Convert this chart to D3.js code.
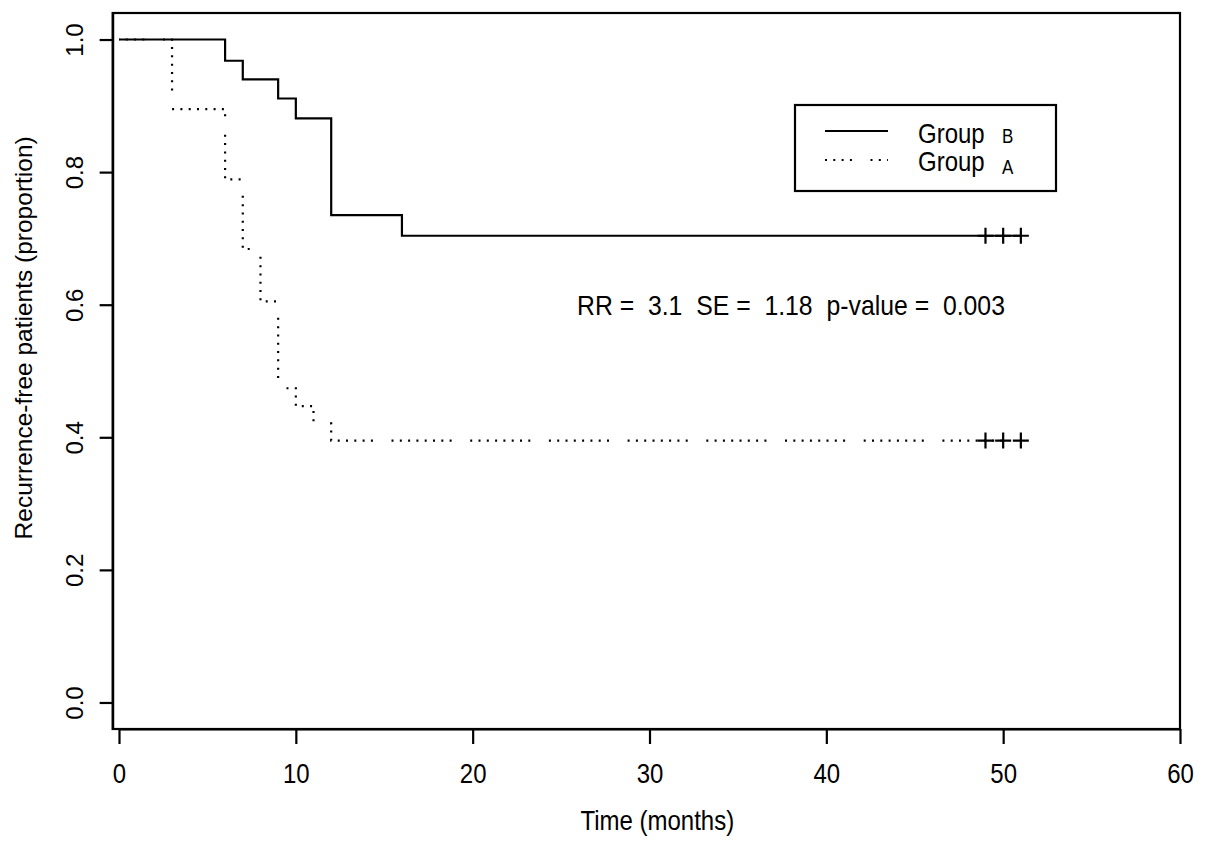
<!DOCTYPE html>
<html>
<head>
<meta charset="utf-8">
<script src="https://cdn.jsdelivr.net/npm/d3@7.9.0/dist/d3.min.js"></script>
<style>
  body { margin: 0; background: #fff; }
  text { font-family: "Liberation Sans", Arial, sans-serif; fill: #000; white-space: pre; }
</style>
</head>
<body>
<svg id="chart" width="1205" height="848"></svg>
<script>
// Kaplan-Meier step data
const timesB = [0, 6, 7, 9, 10, 12, 16];
const survB = [1, 0.968, 0.940, 0.911, 0.881, 0.735, 0.704];
const timesA = [0, 3, 6, 7, 8, 9, 10, 11, 12];
const survA = [1, 0.895, 0.789, 0.684, 0.605, 0.474, 0.447, 0.421, 0.395];
const lastTime = 51;
const censorB = [49, 50, 51];
const censorA = [49, 50, 51];

const xTicks = [0, 10, 20, 30, 40, 50, 60];
const yTicks = [0, 0.2, 0.4, 0.6, 0.8, 1.0];
const legendGroups = ["B", "A"];
const statText = "RR =  3.1  SE =  1.18  p-value =  0.003";

const SY = 1.15; // glyphs in the picture are a bit taller than wide
const FS = 24;

const svg = d3.select('#chart');
const x = d3.scaleLinear().domain([0, 60]).range([119, 1180]);
const y = d3.scaleLinear().domain([-0.04, 1.04]).range([729, 13]);

// dotted pattern: groups of 8 dots then a longer gap
const dotPattern = d3.range(7).map(() => '2,6.3').join(',') + ',2,18.6';

function htext(px, py, str, size, anchor) {
    return svg.append('text')
        .attr('transform', `translate(${px},${py}) scale(1,${SY})`)
        .attr('font-size', size)
        .attr('text-anchor', anchor)
        .text(str);
}

// axes
const xAxis = svg.append('g')
    .attr('transform', `translate(0,${y(-0.04)})`)
    .call(d3.axisBottom(x).tickValues(xTicks).tickSize(15).tickSizeOuter(0).tickFormat(d3.format('d')));
const yAxis = svg.append('g')
    .attr('transform', `translate(${x(-0.36)},0)`)
    .call(d3.axisLeft(y).tickValues(yTicks).tickSize(13).tickSizeOuter(0).tickFormat(d3.format('.1f')));
[xAxis, yAxis].forEach(g => {
    g.attr('font-size', null).attr('font-family', null);
    g.selectAll('line, path').attr('stroke', '#000').attr('stroke-width', 2.2);
});
xAxis.selectAll('text')
    .attr('y', null).attr('dy', null)
    .attr('font-size', FS)
    .attr('transform', `translate(0,54) scale(1,${SY})`);
yAxis.selectAll('text')
    .attr('x', null).attr('dy', null)
    .attr('font-size', FS)
    .attr('text-anchor', 'middle')
    .attr('transform', 'translate(-30,0) rotate(-90)');

// plot frame
svg.append('rect')
    .attr('x', x(-0.36)).attr('y', y(1.04))
    .attr('width', x(60) - x(-0.36)).attr('height', y(-0.04) - y(1.04))
    .attr('fill', 'none').attr('stroke', '#000').attr('stroke-width', 2.2);

// curves
const step = d3.line().x(d => x(d[0])).y(d => y(d[1])).curve(d3.curveStepAfter);
const ptsB = timesB.map((t, i) => [t, survB[i]]).concat([[lastTime, survB[survB.length - 1]]]);
const ptsA = timesA.map((t, i) => [t, survA[i]]).concat([[lastTime, survA[survA.length - 1]]]);

svg.append('path').attr('d', step(ptsA))
    .attr('fill', 'none').attr('stroke', '#000').attr('stroke-width', 2.2)
    .attr('stroke-dasharray', dotPattern).attr('stroke-dashoffset', 34.7);
svg.append('path').attr('d', step(ptsB))
    .attr('fill', 'none').attr('stroke', '#000').attr('stroke-width', 2.2);

// censoring marks
function plusMarks(times, s) {
    svg.append('g').selectAll('path').data(times).join('path')
        .attr('d', t => `M${x(t) - 8},${y(s)}h16M${x(t)},${y(s) - 8}v16`)
        .attr('stroke', '#000').attr('stroke-width', 2.2).attr('fill', 'none');
}
plusMarks(censorB, survB[survB.length - 1]);
plusMarks(censorA, survA[survA.length - 1]);

// axis titles
htext((x(-0.36) + x(60)) / 2 + 11, 830, 'Time (months)', FS, 'middle');
svg.append('text')
    .attr('transform', `translate(32,${y(0.55)}) rotate(-90)`)
    .attr('font-size', 24.5)
    .attr('text-anchor', 'middle')
    .text('Recurrence-free patients (proportion)');

// statistics note
htext(x(38), y(0.6) + 10, statText, 24.8, 'middle');

// legend
const lg = svg.append('g');
lg.append('rect').attr('x', 795).attr('y', 105).attr('width', 261).attr('height', 86)
    .attr('fill', '#fff').attr('stroke', '#000').attr('stroke-width', 2.2);
legendGroups.forEach((grp, i) => {
    const ly = 131 + i * 29;
    lg.append('line').attr('x1', 825).attr('x2', 888).attr('y1', ly).attr('y2', ly)
        .attr('stroke', '#000').attr('stroke-width', 2.2)
        .attr('stroke-dasharray', i === 0 ? null : dotPattern)
        .attr('stroke-dashoffset', i === 0 ? null : 33.2);
    htext(918, 143 + i * 28, 'Group', FS, 'start');
    svg.append('text')
        .attr('transform', `translate(1002,${143 + i * 31}) scale(1,${SY})`)
        .attr('font-size', 17)
        .text(grp);
});
</script>
</body>
</html>
